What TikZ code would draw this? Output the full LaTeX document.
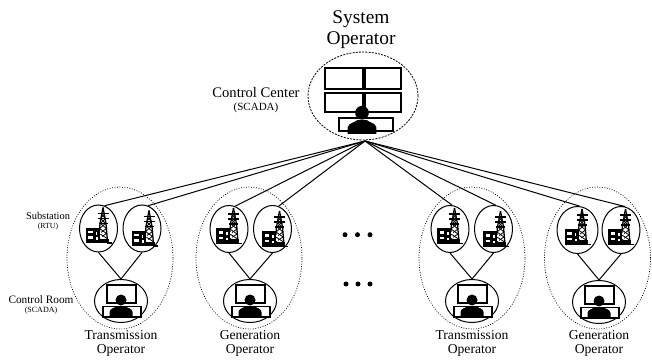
\documentclass[tikz,border=0pt]{standalone}
\usepackage{fontspec}
\setmainfont{Liberation Serif}
\usetikzlibrary{shapes}
\usetikzlibrary{positioning}
\newcommand{\fsz}[1]{\fontsize{#1}{#1}\selectfont}
\tikzset{
    pics/operator/.style={code={
        \fill (0,-9) circle (5.5);
        \fill (-11.5,8) -- (-11.5,3) .. controls (-11,-1) and (-6,-1) .. (-4,-3) -- (4,-3) .. controls (6,-1) and (11,-1) .. (11.5,3) -- (11.5,8) -- cycle;
    }},
    pics/substation/.style={code={
        % tower
        \draw[line width=1.3pt] (4.5,-21) -- (1.5,-5) -- (0,13);
        \draw[line width=1.3pt] (4.5,-21) -- (7.5,-5) -- (9,13);
        \draw[line width=1.3pt] (-1,-15) -- (10,-15);
        \draw[line width=1.3pt] (-1,-10) -- (10,-10);
        \draw[line width=1.3pt] (0,-5) -- (9,-5);
        \draw[line width=.8pt] (2.5,-15) -- (7,-10) -- (2,-5) -- (8,0) -- (1,5) -- (8.5,10);
        \draw[line width=.8pt] (6.5,-15) -- (2,-10) -- (7,-5) -- (1,0) -- (8,5) -- (.5,10);
        \fill (-1,10) rectangle (10,14.5);
        \draw[line width=1.2pt] (8,14.5) -- (13,14.5);
        % building
        \fill (-13,-1) rectangle (1,14.5);
        \fill[white] (-10.5,2) rectangle (-6,4.5);
        \fill[white] (-10.5,7.5) rectangle (-6,10);
        \fill[white] (-3,3) rectangle (-1.5,6);
        \fill[white] (-3,8.5) rectangle (-1,11);
        \fill[white] (1,3) rectangle (2.5,5);
        \fill[white] (1,7) rectangle (3,9);
    }},
    pics/roomdesk/.style={code={
        \draw[line width=1.4pt] (-14,-16) rectangle (15,2);
        \draw[line width=1.4pt,fill=white] (-18,5.5) rectangle (20,16);
        \pic at (0,8) {operator};
    }}
}
\begin{document}
\begin{tikzpicture}[
            x=1pt, y=-1pt,
            every node/.style={inner sep=0pt},
            substation/.style={draw, ellipse, line width=1pt, minimum width=38pt, minimum height=47pt},
            controlroom/.style={draw, ellipse, line width=1pt, minimum width=53pt, minimum height=43pt},
            operatorzone/.style={draw, ellipse, line width=.7pt, dash pattern=on .9pt off 1.6pt, minimum width=106pt, minimum height=142pt},
            centerzone/.style={draw, ellipse, line width=.8pt, dash pattern=on 2pt off 1.2pt, minimum width=110pt, minimum height=88pt},
            operatorlabel/.style={align=center, font=\fsz{13.6}, text height=9.5pt},
            dotmark/.style={circle, fill, minimum size=5pt},
            node distance=43.5pt
        ]
            \useasboundingbox (0,0) rectangle (652,363);
            % control center
            \node [centerzone] (center) at (363,96) {};
            \coordinate (hub) at (365,141);
            \node [align=center, font=\fsz{19.4}, execute at begin node={\baselineskip=21pt}] (system) at (361,30) {System\\Operator};
            \node [font=\fsz{14.6}] (cclabel) at (256,93) {Control Center};
            \node [font=\fsz{11}] (ccscada) at (256,108) {(SCADA)};
            \draw [line width=2pt, fill=white] (325,68) rectangle (363,89);
            \draw [line width=2pt, fill=white] (365,68) rectangle (401,89);
            \draw [line width=2pt, fill=white] (325,93) rectangle (363,112.5);
            \draw [line width=2pt, fill=white] (365,93) rectangle (401,112.5);
            \draw [line width=1.4pt, fill=white] (339,118) rectangle (393,131);
            \pic [scale=1.25] at (362,124) {operator};
            % first group
            \node [substation] (sub1a) at (98.5,228.5) {};
            \node [substation, right of=sub1a] (sub1b) {};
            \node [controlroom] (room1) at (121,301) {};
            \node [operatorzone] (zone1) at (120,258) {};
            % second group
            \node [substation] (sub2a) at (229,229) {};
            \node [substation, right of=sub2a] (sub2b) {};
            \node [controlroom] (room2) at (250,301) {};
            \node [operatorzone] (zone2) at (249,258) {};
            % third group
            \node [substation] (sub3a) at (450,229) {};
            \node [substation, right of=sub3a] (sub3b) {};
            \node [controlroom] (room3) at (472,301) {};
            \node [operatorzone] (zone3) at (472,258) {};
            % fourth group
            \node [substation, minimum width=41pt] (sub4a) at (577.5,230) {};
            \node [substation, right of=sub4a] (sub4b) {};
            \node [controlroom] (room4) at (599,302) {};
            \node [operatorzone] (zone4) at (597.5,258) {};
            % icons
            \pic at (sub1a) {substation};
            \pic at ([shift={(2.5,3)}]sub1b) {substation};
            \pic at (sub2a) {substation};
            \pic at ([shift={(2.5,3)}]sub2b) {substation};
            \pic at (sub3a) {substation};
            \pic at ([shift={(2.5,3)}]sub3b) {substation};
            \pic at (sub4a) {substation};
            \pic at (sub4b) {substation};
            \pic at (room1) {roomdesk};
            \pic at (room2) {roomdesk};
            \pic at (room3) {roomdesk};
            \pic at (room4) {roomdesk};
            % links
            \draw [line width=1pt] (hub) -- (sub1a.75);
            \draw [line width=1pt] (hub) -- (sub1b.75);
            \draw [line width=1pt] (hub) -- (sub2a.75);
            \draw [line width=1pt] (hub) -- (sub2b.75);
            \draw [line width=1pt] (hub) -- (sub3a.85);
            \draw [line width=1pt] (hub) -- (sub3b.85);
            \draw [line width=1pt] (hub) -- (sub4a.85);
            \draw [line width=1pt] (hub) -- (sub4b.80);
            \draw [line width=1pt] (sub1a.south) -- (room1.north);
            \draw [line width=1pt] (sub1b.south) -- (room1.north);
            \draw [line width=1pt] (sub2a.south) -- (room2.north);
            \draw [line width=1pt] (sub2b.south) -- (room2.north);
            \draw [line width=1pt] (sub3a.south) -- (room3.north);
            \draw [line width=1pt] (sub3b.south) -- (room3.north);
            \draw [line width=1pt] (sub4a.south) -- (room4.north);
            \draw [line width=1pt] (sub4b.south) -- (room4.north);
            % labels
            \node [font=\fsz{10.4}] (sublabel) at (48,216) {Substation};
            \node [font=\fsz{7.8}] (rtulabel) at (48,227) {(RTU)};
            \node [font=\fsz{11.3}] (roomlabel) at (41,300) {Control Room};
            \node [font=\fsz{8}] (roomscada) at (41,311) {(SCADA)};
            \node [operatorlabel] (op1) at (121,350) {Transmission\\Operator};
            \node [operatorlabel] (op2) at (250,350) {Generation\\Operator};
            \node [operatorlabel] (op3) at (472,350) {Transmission\\Operator};
            \node [operatorlabel] (op4) at (599,350) {Generation\\Operator};
            % dots
            \node [dotmark] (dotup1) at (345,234.7) {};
            \node [dotmark, node distance=12.5pt, right of=dotup1] (dotup2) {};
            \node [dotmark, node distance=12.5pt, right of=dotup2] (dotup3) {};
            \node [dotmark] (dotdown1) at (346,284) {};
            \node [dotmark, node distance=12pt, right of=dotdown1] (dotdown2) {};
            \node [dotmark, node distance=12pt, right of=dotdown2] (dotdown3) {};
        \end{tikzpicture}
\end{document}
